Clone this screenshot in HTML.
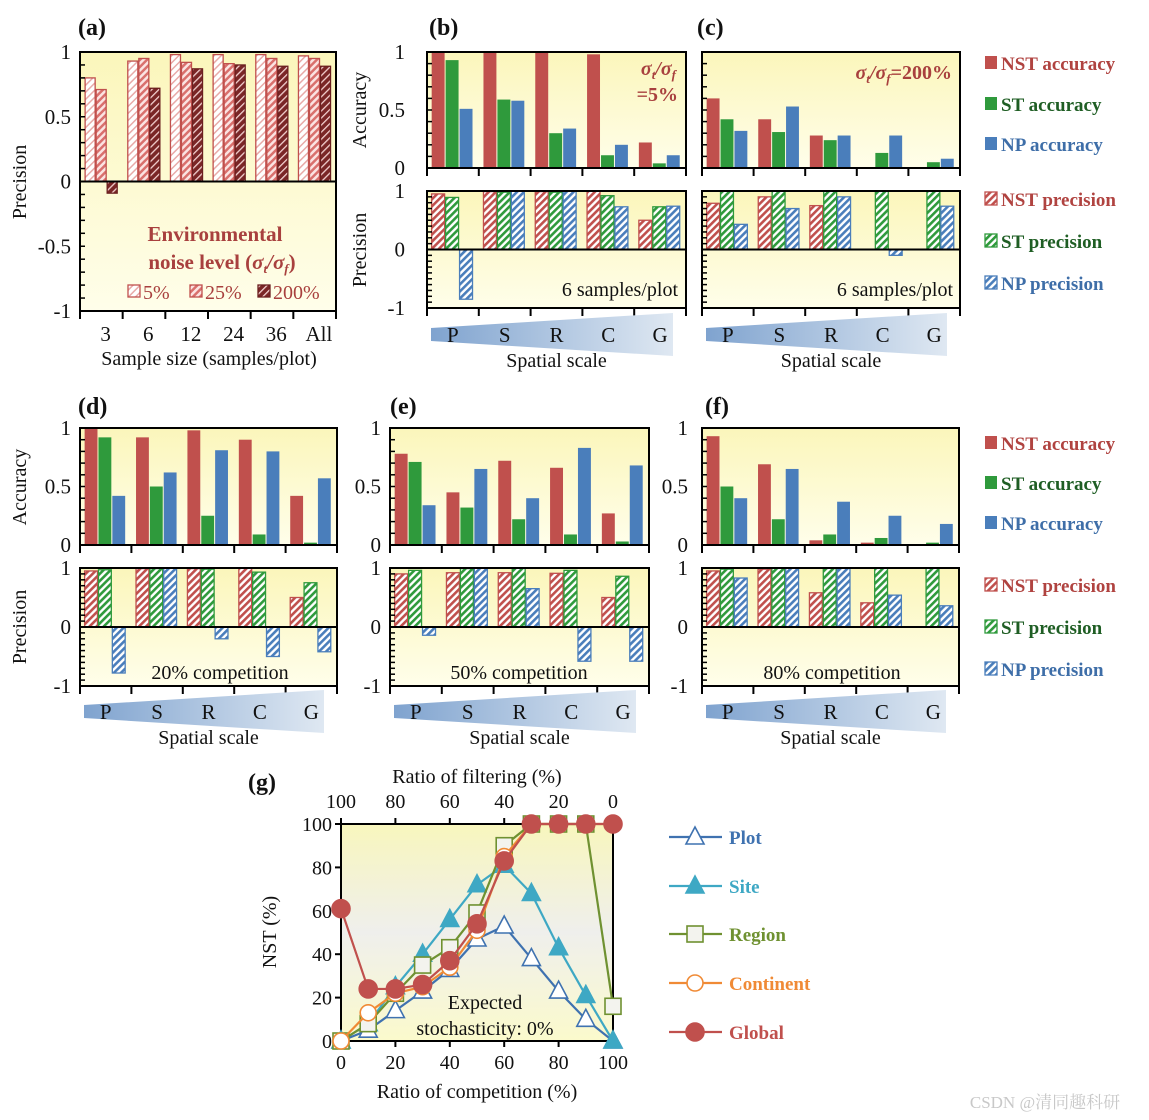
<!DOCTYPE html>
<html><head><meta charset="utf-8">
<style>
html,body{margin:0;padding:0;background:#fff;}
svg{display:block;font-family:"Liberation Serif",serif;}
</style></head>
<body>
<svg id="fig" width="1149" height="1120" viewBox="0 0 1149 1120" xmlns="http://www.w3.org/2000/svg">
<defs>
<linearGradient id="bgY" x1="0" y1="0" x2="0" y2="1"><stop offset="0" stop-color="#fbf6bb"/><stop offset="1" stop-color="#fffeea"/></linearGradient>
<linearGradient id="bgG" x1="0" y1="0" x2="0" y2="1"><stop offset="0" stop-color="#f8f6bd"/><stop offset="0.5" stop-color="#efefec"/><stop offset="1" stop-color="#fbfacc"/></linearGradient>
<linearGradient id="tri" x1="0" y1="0" x2="1" y2="0"><stop offset="0" stop-color="#7fa3cf"/><stop offset="1" stop-color="#dfe8f2"/></linearGradient>
<pattern id="hR" width="5" height="5" patternUnits="userSpaceOnUse" patternTransform="rotate(45)"><rect width="5" height="5" fill="#fff"/><rect width="2.6" height="5" fill="#c0504d"/></pattern>
<pattern id="hG" width="5" height="5" patternUnits="userSpaceOnUse" patternTransform="rotate(45)"><rect width="5" height="5" fill="#fff"/><rect width="2.6" height="5" fill="#2f9a3c"/></pattern>
<pattern id="hB" width="5" height="5" patternUnits="userSpaceOnUse" patternTransform="rotate(45)"><rect width="5" height="5" fill="#fff"/><rect width="2.6" height="5" fill="#4a7ebb"/></pattern>
<pattern id="h5" width="5" height="5" patternUnits="userSpaceOnUse" patternTransform="rotate(45)"><rect width="5" height="5" fill="#fff"/><rect width="1.5" height="5" fill="#e8aaa8"/></pattern>
<pattern id="h25" width="5" height="5" patternUnits="userSpaceOnUse" patternTransform="rotate(45)"><rect width="5" height="5" fill="#fbe3e2"/><rect width="2.5" height="5" fill="#d9706d"/></pattern>
<pattern id="h200" width="5" height="5" patternUnits="userSpaceOnUse" patternTransform="rotate(45)"><rect width="5" height="5" fill="#7a2626"/><rect width="1.3" height="5" fill="#f2d0cf"/></pattern>
</defs>
</svg>
<script>
// ---------- Panel (a) data ----------
const aCats = ["3","6","12","24","36","All"];
const a5 = [0.80,0.93,0.98,0.98,0.98,0.97];
const a25 = [0.71,0.95,0.92,0.91,0.95,0.95];
const a200 = [-0.09,0.72,0.87,0.90,0.89,0.89];
const scaleCats = ["P","S","R","C","G"];
const accTicks = ["0","0.5","1"];
const precTicks = ["-1","0","1"];
// ---------- Panel (b) ----------
const bAccNST = [1.0,1.0,1.0,0.98,0.22];
const bAccST = [0.93,0.59,0.30,0.11,0.04];
const bAccNP = [0.51,0.58,0.34,0.20,0.11];
const bPreNST = [0.95,0.99,0.99,1.0,0.50];
const bPreST = [0.89,0.98,0.98,0.92,0.73];
const bPreNP = [-0.85,1.0,1.0,0.73,0.74];
// ---------- Panel (c) ----------
const cAccNST = [0.60,0.42,0.28,0,0];
const cAccST = [0.42,0.31,0.24,0.13,0.05];
const cAccNP = [0.32,0.53,0.28,0.28,0.08];
const cPreNST = [0.79,0.90,0.75,null,null];
const cPreST = [1.0,1.0,1.0,1.0,1.0];
const cPreNP = [0.43,0.70,0.90,-0.10,0.74];
// ---------- Panel (d) ----------
const dAccNST = [1.0,0.92,0.98,0.90,0.42];
const dAccST = [0.92,0.50,0.25,0.09,0.02];
const dAccNP = [0.42,0.62,0.81,0.80,0.57];
const dPreNST = [0.95,0.99,0.99,1.0,0.50];
const dPreST = [0.97,0.99,0.98,0.93,0.75];
const dPreNP = [-0.78,1.0,-0.20,-0.50,-0.42];
// ---------- Panel (e) ----------
const eAccNST = [0.78,0.45,0.72,0.66,0.27];
const eAccST = [0.71,0.32,0.22,0.09,0.03];
const eAccNP = [0.34,0.65,0.40,0.83,0.68];
const ePreNST = [0.90,0.92,0.92,0.91,0.50];
const ePreST = [0.96,0.99,1.0,0.96,0.86];
const ePreNP = [-0.14,1.0,0.65,-0.58,-0.58];
// ---------- Panel (f) ----------
const fAccNST = [0.93,0.69,0.04,0.02,0];
const fAccST = [0.50,0.22,0.09,0.06,0.02];
const fAccNP = [0.40,0.65,0.37,0.25,0.18];
const fPreNST = [0.95,0.98,0.58,0.41,null];
const fPreST = [0.98,1.0,1.0,1.0,1.0];
const fPreNP = [0.83,1.0,1.0,0.54,0.36];
// ---------- Panel (g) ----------
const gX = [0,10,20,30,40,50,60,70,80,90,100];
const gTicks = ["0","20","40","60","80","100"];
const gTopTicks = ["100","80","60","40","20","0"];
const gPlot = [0,5,14,23,33,47,53,38,23,10,0];
const gSite = [0,8,25,40,56,72,81,68,43,21,0];
const gRegion = [0,8,22,35,43,59,90,100,100,100,16];
const gContinent = [0,13,22,25,34,51,85,100,100,100,100];
const gGlobal = [61,24,24,26,37,54,83,100,100,100,100];

const NS = "http://www.w3.org/2000/svg";
const svg = document.getElementById("fig");
function mk(tag, attrs, name, parent){
  const el = document.createElementNS(NS, tag);
  for (const k in attrs) el.setAttribute(k, attrs[k]);
  
  
  (parent||svg).appendChild(el);
  return el;
}
function txt(x,y,s,name,o){
  o=o||{};
  const t = mk("text",{x:x,y:y,"font-size":o.size||20,"text-anchor":o.anchor||"middle",fill:o.fill||"#111","font-weight":o.bold?"bold":"normal","font-style":o.italic?"italic":"normal"},name);
  if(o.rot) t.setAttribute("transform","rotate(-90 "+x+" "+y+")");
  t.textContent = s;
  return t;
}
const RED="#c0504d", GRN="#2f9a3c", BLU="#4a7ebb";

function barPlot(p){
  const x0=p.x0,x1=p.x1,yT=p.yT,yB=p.yB,min=p.min;
  const yZ = min<0 ? (yT+yB)/2 : yB;
  const ys = v => yZ - v*(yZ-yT);
  mk("rect",{x:x0,y:yT,width:x1-x0,height:yB-yT,fill:"url(#bgY)"},p.name+"-background");
  const n=p.cats, gw=(x1-x0)/n;
  p.series.forEach((s,si)=>{
    s.vals.forEach((v,i)=>{
      if(v===null||v===undefined) return;
      const bx = x0 + i*gw + p.off*gw + si*(p.bw*gw+1);
      const y1 = Math.min(ys(v),yZ), h=Math.abs(ys(v)-yZ);
      mk("rect",{x:bx,y:y1,width:p.bw*gw,height:Math.max(h,0.01),fill:s.fill,stroke:s.stroke||"none","stroke-width":s.stroke?1.3:0},p.name+"-"+s.key+"-bar-"+i);
    });
  });
  mk("rect",{x:x0,y:yT,width:x1-x0,height:yB-yT,fill:"none",stroke:"#000","stroke-width":2},p.name+"-frame");
  if(min<0) mk("line",{x1:x0,y1:yZ,x2:x1,y2:yZ,stroke:"#000","stroke-width":2},p.name+"-zero-line");
  const steps = min<0?20:10;
  for(let k=1;k<steps;k++){
    const yy = yT + k*(yB-yT)/steps;
    mk("line",{x1:x0,y1:yy,x2:x0+5,y2:yy,stroke:"#000","stroke-width":1.5},p.name+"-y-minor-tick");
  }
  for(let k=0;k<=n;k++){
    const xx=x0+k*gw;
    mk("line",{x1:xx,y1:yB,x2:xx,y2:yB+8,stroke:"#000","stroke-width":2},p.name+"-x-tick");
  }
  if(p.labels){
    const vals = min<0?[-1,0,1]:[0,0.5,1];
    const lx = x0-(p.lgap||9);
    p.labels.forEach((l,i)=>txt(lx,ys(vals[i])+7,l,p.name+"-y-tick-label",{anchor:"end",size:21}));
  }
  return {ys,gw};
}
function triangle(x0,x1,yc,name){
  mk("polygon",{points:`${x0},${yc-7} ${x1},${yc-22} ${x1},${yc+21} ${x0},${yc+6}`,fill:"url(#tri)"},name+"-scale-wedge");
}
function scalePanel(P){
  barPlot({name:P.name+"-accuracy",x0:P.x0,x1:P.x1,yT:P.aT,yB:P.aB,min:0,cats:5,off:0.09,bw:0.25,labels:P.labels?accTicks:null,lgap:P.lgap,
    series:[{key:"nst",vals:P.acc[0],fill:RED},{key:"st",vals:P.acc[1],fill:GRN},{key:"np",vals:P.acc[2],fill:BLU}]});
  barPlot({name:P.name+"-precision",x0:P.x0,x1:P.x1,yT:P.pT,yB:P.pB,min:-1,cats:5,off:0.09,bw:0.25,labels:P.labels?precTicks:null,lgap:P.lgap,
    series:[{key:"nst",vals:P.pre[0],fill:"url(#hR)",stroke:RED},{key:"st",vals:P.pre[1],fill:"url(#hG)",stroke:GRN},{key:"np",vals:P.pre[2],fill:"url(#hB)",stroke:BLU}]});
  const gw=(P.x1-P.x0)/5;
  triangle(P.x0+4,P.x1-13,P.triY,P.name);
  scaleCats.forEach((c,i)=>txt(P.x0+gw*(i+0.5),P.triY+7,c,P.name+"-scale-label-"+c,{size:21}));
  txt((P.x0+P.x1)/2,P.triY+32,"Spatial scale",P.name+"-x-axis-title");
}

// ---------- Panel a ----------
(function(){
  const x0=80,x1=336,yT=52,yB=311;
  const r = barPlot({name:"panel-a",x0,x1,yT,yB,min:-1,cats:6,off:0.12,bw:0.235,labels:precTicks,
    series:[{key:"5pct",vals:a5,fill:"url(#h5)",stroke:RED},{key:"25pct",vals:a25,fill:"url(#h25)",stroke:RED},{key:"200pct",vals:a200,fill:"url(#h200)",stroke:"#6b1f1f"}]});
  txt(x0-9,r.ys(0.5)+7,"0.5","panel-a-y-tick-label",{anchor:"end",size:21});
  txt(x0-9,r.ys(-0.5)+7,"-0.5","panel-a-y-tick-label",{anchor:"end",size:21});
  aCats.forEach((c,i)=>txt(x0+r.gw*(i+0.6),341,c,"panel-a-x-tick-label",{size:21}));
  txt(209,365,"Sample size (samples/plot)","panel-a-x-axis-title");
  txt(26,182,"Precision","panel-a-y-axis-title",{rot:true});
  txt(215,241,"Environmental","panel-a-legend-title",{bold:true,fill:"#a8403e",size:21});
  const t=txt(222,269,"","panel-a-legend-title-2",{bold:true,fill:"#a8403e",size:21});
  t.innerHTML='noise level (<tspan font-style="italic">σ<tspan font-size="13" dy="4">t</tspan><tspan dy="-4">/σ</tspan><tspan font-size="13" dy="4">f</tspan></tspan><tspan dy="-4">)</tspan>';
  [["url(#h5)","5%",128],["url(#h25)","25%",190],["url(#h200)","200%",258]].forEach((e,i)=>{
    mk("rect",{x:e[2],y:285,width:12,height:12,fill:e[0],stroke:i==2?"#6b1f1f":RED,"stroke-width":1.3},"panel-a-legend-swatch-"+e[1]);
    txt(e[2]+15,299,e[1],"panel-a-legend-label-"+e[1],{anchor:"start",fill:"#a8403e"});
  });
})();

// ---------- Panels b-f ----------
scalePanel({name:"panel-b",x0:427,x1:686,aT:52,aB:168,pT:191,pB:308,triY:335,labels:true,lgap:22,acc:[bAccNST,bAccST,bAccNP],pre:[bPreNST,bPreST,bPreNP]});
scalePanel({name:"panel-c",x0:702,x1:960,aT:52,aB:168,pT:191,pB:308,triY:335,labels:false,acc:[cAccNST,cAccST,cAccNP],pre:[cPreNST,cPreST,cPreNP]});
scalePanel({name:"panel-d",x0:80,x1:337,aT:428,aB:545,pT:568,pB:686,triY:712,labels:true,acc:[dAccNST,dAccST,dAccNP],pre:[dPreNST,dPreST,dPreNP]});
scalePanel({name:"panel-e",x0:390,x1:649,aT:428,aB:545,pT:568,pB:686,triY:712,labels:true,acc:[eAccNST,eAccST,eAccNP],pre:[ePreNST,ePreST,ePreNP]});
scalePanel({name:"panel-f",x0:702,x1:959,aT:428,aB:545,pT:568,pB:686,triY:712,labels:true,lgap:14,acc:[fAccNST,fAccST,fAccNP],pre:[fPreNST,fPreST,fPreNP]});
txt(366,110,"Accuracy","panel-b-y-axis-title-accuracy",{rot:true});
txt(366,250,"Precision","panel-b-y-axis-title-precision",{rot:true});
txt(26,487,"Accuracy","panel-d-y-axis-title-accuracy",{rot:true});
txt(26,627,"Precision","panel-d-y-axis-title-precision",{rot:true});
txt(678,296,"6 samples/plot","panel-b-annotation",{anchor:"end"});
txt(953,296,"6 samples/plot","panel-c-annotation",{anchor:"end"});
txt(220,679,"20% competition","panel-d-annotation");
txt(519,679,"50% competition","panel-e-annotation");
txt(832,679,"80% competition","panel-f-annotation");
(function(){
  const t1=txt(676,75,"","panel-b-noise-label",{bold:true,italic:true,fill:"#a8403e",anchor:"end"});
  t1.innerHTML='σ<tspan font-size="13" dy="4">t</tspan><tspan dy="-4">/σ</tspan><tspan font-size="13" dy="4">f</tspan>';
  txt(678,101,"=5%","panel-b-noise-value",{bold:true,fill:"#a8403e",anchor:"end"});
  const t2=txt(952,79,"","panel-c-noise-label",{bold:true,fill:"#a8403e",anchor:"end"});
  t2.innerHTML='<tspan font-style="italic">σ<tspan font-size="13" dy="4">t</tspan><tspan dy="-4">/σ</tspan><tspan font-size="13" dy="4">f</tspan></tspan><tspan dy="-4">=200%</tspan>';
})();

function barLegend(yList,prefix){
  const items=[["NST accuracy",RED,RED,"#b04340"],["ST accuracy",GRN,GRN,"#1f5e24"],["NP accuracy",BLU,BLU,"#3e6ea8"],
               ["NST precision","url(#hR)",RED,"#b04340"],["ST precision","url(#hG)",GRN,"#1f5e24"],["NP precision","url(#hB)",BLU,"#3e6ea8"]];
  items.forEach((it,i)=>{
    mk("rect",{x:985,y:yList[i]-7,width:12,height:13,fill:it[1],stroke:i>2?it[2]:"none","stroke-width":1.3},prefix+"-legend-swatch-"+i);
    txt(1001,yList[i]+7,it[0],prefix+"-legend-entry-"+i,{anchor:"start",bold:true,size:19,fill:it[3]});
  });
}
barLegend([63,104,144,199,241,283],"row1");
barLegend([443,483,523,585,627,669],"row2");

[["(a)",78,35],["(b)",429,35],["(c)",697,35],["(d)",78,414],["(e)",390,414],["(f)",705,414],["(g)",248,790]].forEach(l=>txt(l[1],l[2],l[0],"panel-label-"+l[0].replace(/[()]/g,""),{anchor:"start",bold:true,size:24}));

// ---------- Panel g ----------
(function(){
  const x0=341,x1=613,yT=824,yB=1041;
  const xs=v=>x0+(v/100)*(x1-x0), ys=v=>yB-(v/100)*(yB-yT);
  mk("rect",{x:x0,y:yT,width:x1-x0,height:yB-yT,fill:"url(#bgG)"},"panel-g-background");
  mk("rect",{x:x0,y:yT,width:x1-x0,height:yB-yT,fill:"none",stroke:"#000","stroke-width":2},"panel-g-frame");
  gTicks.forEach((t,i)=>{
    const v=i*20;
    mk("line",{x1:x0-6,y1:ys(v),x2:x0,y2:ys(v),stroke:"#000","stroke-width":2},"panel-g-y-tick");
    txt(x0-9,ys(v)+7,t,"panel-g-y-tick-label",{anchor:"end"});
    mk("line",{x1:xs(v),y1:yB,x2:xs(v),y2:yB+6,stroke:"#000","stroke-width":2},"panel-g-x-tick");
    txt(xs(v),yB+28,t,"panel-g-x-tick-label");
    mk("line",{x1:xs(v),y1:yT-6,x2:xs(v),y2:yT,stroke:"#000","stroke-width":2},"panel-g-top-tick");
    txt(xs(v),yT-16,gTopTicks[i],"panel-g-top-tick-label");
  });
  txt((x0+x1)/2,1098,"Ratio of competition (%)","panel-g-x-axis-title");
  txt((x0+x1)/2,783,"Ratio of filtering (%)","panel-g-top-axis-title");
  txt(276,932,"NST (%)","panel-g-y-axis-title",{rot:true});
  txt(485,1009,"Expected","panel-g-annotation-1");
  txt(485,1035,"stochasticity: 0%","panel-g-annotation-2");
  const series=[["plot",gPlot,"#3f72b0","tri-open","Plot"],["site",gSite,"#3ea8c4","tri","Site"],["region",gRegion,"#6f9131","sq","Region"],["continent",gContinent,"#f08a35","circ-open","Continent"],["global",gGlobal,"#c0504d","circ","Global"]];
  function marker(kind,cx,cy,col,name){
    if(kind.startsWith("tri")) mk("polygon",{points:`${cx},${cy-10} ${cx+9},${cy+7} ${cx-9},${cy+7}`,fill:kind=="tri"?col:"#fff",stroke:col,"stroke-width":1.6},name);
    else if(kind=="sq") mk("rect",{x:cx-8,y:cy-8,width:16,height:16,fill:"#f3f3ee",stroke:col,"stroke-width":1.6},name);
    else mk("circle",{cx:cx,cy:cy,r:kind=="circ"?9:8,fill:kind=="circ"?col:"#fff",stroke:col,"stroke-width":1.6},name);
  }
  series.forEach(s=>{
    const pts=gX.map((x,i)=>xs(x)+","+ys(s[1][i])).join(" ");
    mk("polyline",{points:pts,fill:"none",stroke:s[2],"stroke-width":2.2},"panel-g-line-"+s[0]);
    gX.forEach((x,i)=>marker(s[3],xs(x),ys(s[1][i]),s[2],"panel-g-point-"+s[0]));
  });
  const ly=[837,886,934,983,1032];
  series.forEach((s,i)=>{
    mk("line",{x1:669,y1:ly[i],x2:722,y2:ly[i],stroke:s[2],"stroke-width":2.2},"panel-g-legend-line-"+s[0]);
    marker(s[3],695,ly[i],s[2],"panel-g-legend-marker-"+s[0]);
    txt(729,ly[i]+7,s[4],"panel-g-legend-entry-"+s[0],{anchor:"start",bold:true,size:19,fill:s[2]});
  });
})();
txt(1045,1108,"CSDN @清同趣科研","watermark",{size:17,fill:"#c8c8c8"});
document.querySelectorAll('#fig text').forEach(t=>{t.style.fontFamily='"Liberation Serif","Noto Serif CJK SC",serif';});
</script>
</body></html>
